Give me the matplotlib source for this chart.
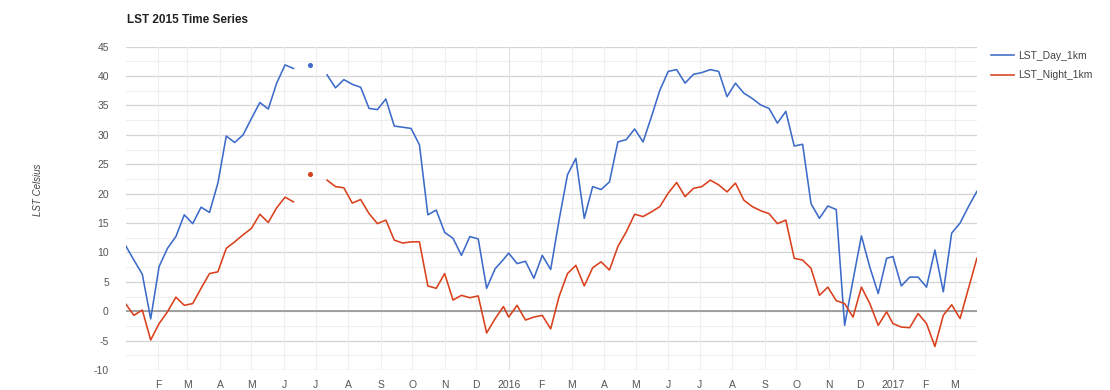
import numpy as np
import matplotlib
matplotlib.use("Agg")
import matplotlib.pyplot as plt
import matplotlib.dates as mdates
from matplotlib.ticker import FixedLocator
from datetime import date, timedelta

plt.rcParams['font.family'] = ['Liberation Sans', 'DejaVu Sans']
plt.rcParams['axes.unicode_minus'] = False

# ---- data: MODIS 8-day composites (restart each Jan 1) ----
years = [2015, 2016, 2017]
composites_per_year = [46, 46, 11]

nan = np.nan
lst_day_2015 = [11.2, 8.7, 6.3, -1.3, 7.6, 10.7, 12.7, 16.4, 14.9, 17.7,
                16.8, 21.8, 29.8, 28.7, 30.0, 32.8, 35.5, 34.4, 38.8, 41.9,
                41.3, nan, 41.9, nan, 40.2, 38.0, 39.4, 38.6, 38.1, 34.5,
                34.3, 36.1, 31.5, 31.3, 31.1, 28.3, 16.4, 17.2, 13.4, 12.4,
                9.5, 12.7, 12.3, 3.9, 7.2, 8.8]
lst_night_2015 = [1.3, -0.7, 0.2, -4.9, -2.1, -0.1, 2.4, 1.0, 1.3, 3.9,
                  6.4, 6.7, 10.7, 11.8, 13.0, 14.1, 16.5, 15.1, 17.6, 19.4,
                  18.6, nan, 23.4, nan, 22.3, 21.2, 21.0, 18.4, 19.0, 16.6,
                  14.9, 15.5, 12.1, 11.6, 11.8, 11.8, 4.3, 3.9, 6.4, 1.9,
                  2.7, 2.3, 2.6, -3.7, -1.3, 0.8]
lst_day_2016 = [9.9, 8.1, 8.5, 5.6, 9.5, 7.1, 15.5, 23.2, 26.0, 15.8,
                21.2, 20.7, 22.0, 28.8, 29.2, 31.0, 28.8, 33.1, 37.6, 40.8,
                41.1, 38.8, 40.3, 40.6, 41.1, 40.8, 36.5, 38.8, 37.1, 36.2,
                35.1, 34.5, 32.0, 34.0, 28.1, 28.4, 18.3, 15.8, 17.9, 17.3,
                -2.4, 5.3, 12.8, 7.5, 3.0, 9.0]
lst_night_2016 = [-1.0, 1.0, -1.5, -1.0, -0.7, -3.0, 2.5, 6.4, 7.8, 4.3,
                  7.4, 8.4, 7.0, 11.0, 13.5, 16.5, 16.1, 16.9, 17.8, 20.1,
                  21.9, 19.5, 20.9, 21.2, 22.3, 21.5, 20.3, 21.8, 18.9, 17.8,
                  17.1, 16.6, 14.9, 15.5, 9.0, 8.7, 7.3, 2.7, 4.1, 1.8,
                  1.3, -1.0, 4.1, 1.3, -2.4, -0.1]
lst_day_2017 = [9.3, 4.3, 5.8, 5.8, 4.1, 10.4, 3.3, 13.3, 15.0, 17.8, 20.4]
lst_night_2017 = [-2.1, -2.7, -2.8, -0.4, -2.1, -6.0, -0.7, 1.1, -1.25, 3.9, 9.0]

series_names = ["LST_Day_1km", "LST_Night_1km"]
series_colors = ["#3d6bc9", "#d9401c"]
title = "LST 2015 Time Series"
y_label = "LST Celsius"
month_letters = ["J", "F", "M", "A", "M", "J", "J", "A", "S", "O", "N", "D"]

# ---- build x dates ----
dates = []
for yr, n in zip(years, composites_per_year):
    start = date(yr, 1, 1)
    dates += [start + timedelta(days=8 * k) for k in range(n)]
day_vals = np.array(lst_day_2015 + lst_day_2016 + lst_day_2017, dtype=float)
night_vals = np.array(lst_night_2015 + lst_night_2016 + lst_night_2017, dtype=float)
xd = mdates.date2num(dates)

fig = plt.figure(figsize=(11.1, 3.9), dpi=100)
ax = fig.add_axes([125.5 / 1110, 1 - 370 / 390, (977 - 125.5) / 1110, (370 - 46.7) / 390])

ax.set_xlim(xd[0], xd[-1] + 0.1)
ax.set_ylim(-10, 45)

# gridlines
for v in np.arange(-10, 45.01, 2.5):
    if v % 5 == 0:
        ax.axhline(v, color="#d4d4d4", lw=0.9, zorder=0)
    else:
        ax.axhline(v, color="#efefef", lw=0.8, zorder=0)
ax.axhline(0, color="#9a9a9a", lw=1.3, zorder=1)

month_ticks = []
month_labels = []
for yr in years:
    for m in range(1, 13):
        d = date(yr, m, 1)
        if d <= dates[0] or d > dates[-1]:
            continue
        month_ticks.append(mdates.date2num(d))
        month_labels.append(str(yr) if m == 1 else month_letters[m - 1])
for t, lab in zip(month_ticks, month_labels):
    ax.axvline(t, color="#e2e2e2" if lab.isdigit() else "#efefef", lw=0.8, zorder=0)

# series
for vals, name, col in zip([day_vals, night_vals], series_names, series_colors):
    ax.plot(xd, vals, color=col, lw=1.15, label=name, zorder=3, solid_joinstyle="round")
    # isolated points (neighbours missing) drawn as dots
    for i in range(len(vals)):
        if np.isnan(vals[i]):
            continue
        left_nan = i == 0 or np.isnan(vals[i - 1])
        right_nan = i == len(vals) - 1 or np.isnan(vals[i + 1])
        if left_nan and right_nan:
            ax.plot([xd[i]], [vals[i]], "o", color=col, ms=2.6, zorder=3)

for s in ax.spines.values():
    s.set_visible(False)

ax.xaxis.set_major_locator(FixedLocator(month_ticks))
ax.set_xticklabels(month_labels)
ax.set_yticks(np.arange(-10, 46, 5))
ax.tick_params(axis="both", length=0, labelsize=7.5, labelcolor="#555555")
ax.tick_params(axis="x", pad=7)
ax.tick_params(axis="y", pad=12)

fig.text(38 / 1110, 1 - 190 / 390, y_label, rotation=90, ha="center", va="center",
         fontsize=7, style="italic", color="#444444")
fig.text(127 / 1110, 1 - 20 / 390, title, ha="left", va="center",
         fontsize=8.5, fontweight="bold", color="#222222")

leg = ax.legend(loc="upper left", bbox_to_anchor=(1.012, 1.0), frameon=False,
                fontsize=7.5, handlelength=2.2, handletextpad=0.4, labelspacing=0.9,
                borderaxespad=0.0)
for t in leg.get_texts():
    t.set_color("#444444")

fig.savefig("out.png", dpi=100)
